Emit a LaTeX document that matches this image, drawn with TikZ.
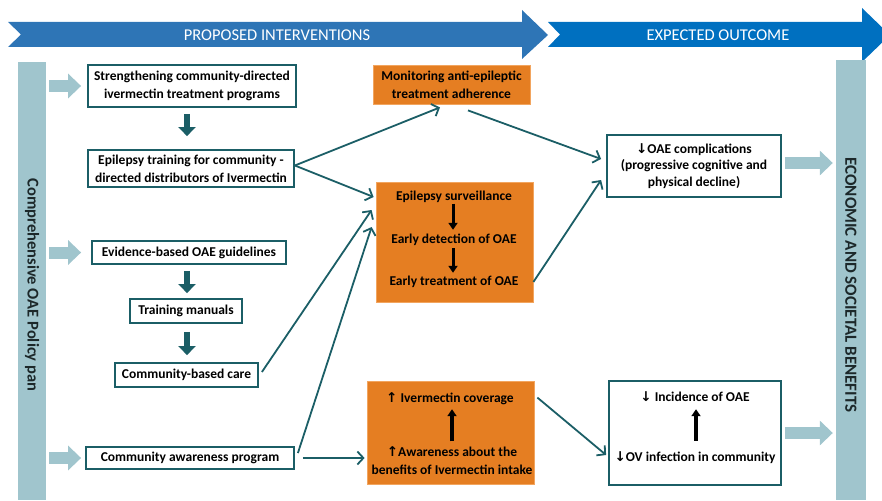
\documentclass[tikz,border=0pt]{standalone}
\usepackage{fontspec}
\setmainfont{Carlito}
\newfontfamily\arrfont{DejaVu Sans}
\usetikzlibrary{arrows.meta,calc}
\definecolor{teal1}{RGB}{27,94,102}
\definecolor{barcol}{RGB}{160,197,205}
\definecolor{orng}{RGB}{229,126,34}
\definecolor{orngedge}{RGB}{242,165,95}
\definecolor{blueA}{RGB}{46,117,182}
\definecolor{blueB}{RGB}{0,112,192}
\definecolor{bartext}{RGB}{28,40,42}
\begin{document}
\begin{tikzpicture}[x=1pt,y=-1pt,
  txt/.style={font=\bfseries\fontsize{13.5}{18}\selectfont},
  wbox/.style={txt, draw=teal1, line width=1.8pt, fill=white, align=center, inner sep=1pt},
  obox/.style={txt, draw=orngedge, line width=0.8pt, fill=orng, align=center, inner sep=1pt},
  itext/.style={txt, inner sep=0pt, text height=10pt, text depth=3pt},
  mtext/.style={txt, inner sep=0pt, align=center},
  bannertext/.style={font=\fontsize{16.5}{18}\selectfont, text=white},
  barbox/.style={fill=barcol, draw=none, inner sep=0pt},
  bartxt/.style={font=\bfseries\fontsize{16.5}{18}\selectfont, text=bartext, rotate=-90},
  conn/.style={draw=teal1, line width=1.8pt, -{Straight Barb[length=6pt,width=13pt]}},
  darkarr/.style={draw=teal1, line width=6.5pt, -{Triangle[length=9pt,width=17pt]}},
  lightarr/.style={draw=barcol, line width=12pt, -{Triangle[length=13pt,width=24pt]}},
  blk/.style={draw=black, line width=3pt, -{Triangle[length=7pt,width=9pt]}}
]
\useasboundingbox (0,0) rectangle (882,500);
\clip (0,0) rectangle (882,500);

% banners
\fill[blueA] (8,22) -- (522,22) -- (522,10) -- (548,35) -- (522,59) -- (522,47) -- (8,47) -- (21,34.5) -- cycle;
\fill[blueB] (548,22) -- (862,22) -- (862,8) -- (890,35) -- (862,62) -- (862,47) -- (548,47) -- (560,34.5) -- cycle;
\node[bannertext] (bt1) at (277,35) {PROPOSED INTERVENTIONS};
\node[bannertext] (bt2) at (718,35) {EXPECTED OUTCOME};

% side bars
\node[barbox, minimum width=28pt, minimum height=438pt] (lbar) at (32,281) {};
\node[bartxt] (lbartxt) at (32,285) {Comprehensive OAE Policy pan};
\node[barbox, minimum width=30pt, minimum height=440pt] (rbar) at (851,280) {};
\node[bartxt, font=\bfseries\fontsize{17}{18}\selectfont] (rbartxt) at (851,285) {ECONOMIC AND SOCIETAL BENEFITS};

% left column boxes
\node[wbox, minimum width=208pt, minimum height=42pt] (s1) at (192,86) {Strengthening community-directed\\ivermectin treatment programs};
\node[wbox, minimum width=206pt, minimum height=37pt] (s2) at (191,168.5) {Epilepsy training for community -\\directed distributors of Ivermectin};
\node[wbox, minimum width=194pt, minimum height=23pt] (g1) at (189,252.5) {Evidence-based OAE guidelines};
\node[wbox, minimum width=112pt, minimum height=24pt] (g2) at (186,311) {Training manuals};
\node[wbox, minimum width=143pt, minimum height=24pt] (g3) at (186.5,375) {Community-based care};
\node[wbox, minimum width=208pt, minimum height=22pt] (g4) at (190,458) {Community awareness program};

% orange boxes
\node[obox, minimum width=157pt, minimum height=39pt] (m) at (451.5,84.5) {Monitoring anti-epileptic\\treatment adherence};
\node[obox, minimum width=157pt, minimum height=120pt] (sv) at (454.5,242) {};
\node[itext] (sv1) at (454,197) {Epilepsy surveillance};
\node[itext] (sv2) at (454,240) {Early detection of OAE};
\node[itext] (sv3) at (454,282) {Early treatment of OAE};
\node[obox, minimum width=167pt, minimum height=103pt] (iv) at (450.5,432.5) {};
\node[itext] (iv1) at (450,399) {{\arrfont ↑} Ivermectin coverage};
\node[mtext] (iv2) at (452,461) {{\arrfont ↑}Awareness about the\\benefits of Ivermectin intake};

% outcome boxes
\node[wbox, minimum width=174pt, minimum height=62pt, font=\bfseries\fontsize{13.5}{16.5}\selectfont] (oc) at (694,166) {{\arrfont ↓}OAE complications\\(progressive cognitive and\\physical decline)};
\node[wbox, minimum width=172pt, minimum height=104pt] (inc) at (695,433) {};
\node[itext] (in1) at (695,398) {{\arrfont ↓} Incidence of OAE};
\node[itext] (in2) at (695,458) {{\arrfont ↓}OV infection in community};

% dark block arrows
\draw[darkarr, shorten <=6pt, shorten >=13pt] (s1.south -| 187,0) -- (s2.north -| 187,0);
\draw[darkarr, shorten <=6pt, shorten >=5pt] (g1.south -| 187,0) -- (g2.north -| 187,0);
\draw[darkarr, shorten <=8pt, shorten >=7pt] (g2.south -| 187,0) -- (g3.north -| 187,0);

% black inner arrows
\draw[blk, shorten <=0pt, shorten >=3.5pt] (sv1.south -| 453,0) -- (sv2.north -| 453,0);
\draw[blk, shorten <=1.5pt, shorten >=2.5pt] (sv2.south -| 453,0) -- (sv3.north -| 453,0);
\draw[blk, line width=3.5pt, shorten <=5.5pt, shorten >=3.5pt] (iv2.north -| 452,0) -- (iv1.south -| 452,0);
\draw[blk, line width=3.5pt, shorten <=10.5pt, shorten >=4.5pt] (in2.north -| 696,0) -- (in1.south -| 696,0);

% light block arrows
\draw[lightarr, shorten <=3pt, shorten >=6pt] (lbar.east |- s1.west) -- (s1.west);
\draw[lightarr, shorten <=3pt, shorten >=10pt] (lbar.east |- g1.west) -- (g1.west);
\draw[lightarr, shorten <=3pt, shorten >=4pt] (lbar.east |- g4.west) -- (g4.west);
\draw[lightarr, shorten <=3pt, shorten >=3pt] ([yshift=3pt]oc.east) -- ([yshift=3pt]oc.east -| rbar.west);
\draw[lightarr, shorten <=3pt, shorten >=3pt] (inc.east) -- (inc.east -| rbar.west);

% connectors
\draw[conn] ([yshift=3pt]s2.east) -- ([xshift=-11.5pt,yshift=-3pt]m.south);
\draw[conn] ([yshift=3pt]s2.east) -- ([xshift=-2pt,yshift=45pt]sv.west);
\draw[conn] ([xshift=3pt,yshift=3pt]g3.east) -- ([xshift=-4pt,yshift=32pt]sv.west);
\draw[conn] ([xshift=3pt,yshift=5pt]g4.east) -- ([xshift=-4pt,yshift=15pt]sv.west);
\draw[conn, shorten >=2pt] ([xshift=8pt]g4.east) -- (g4.east -| iv.west);
\draw[conn] ([xshift=16.5pt,yshift=-6pt]m.south) -- ([xshift=-5pt,yshift=7pt]oc.west);
\draw[conn] ([yshift=-40pt]sv.east) -- ([xshift=-5pt,yshift=-14pt]oc.west);
\draw[conn] ([xshift=3pt,yshift=-17pt]iv.north east) -- ([xshift=-2pt,yshift=-22pt]inc.west);
\end{tikzpicture}
\end{document}
